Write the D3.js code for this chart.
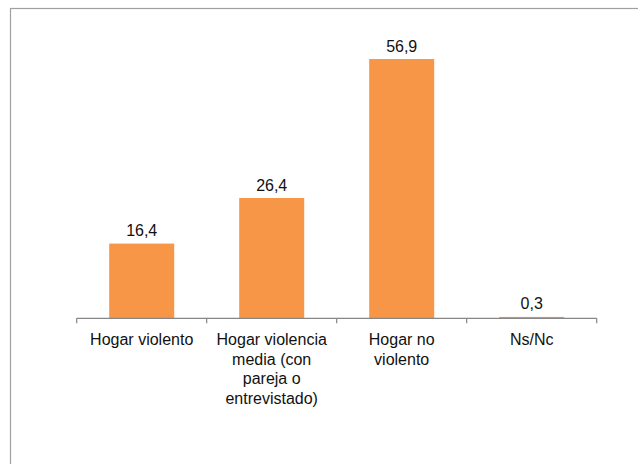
<!DOCTYPE html>
<html>
<head>
<meta charset="utf-8">
<script src="https://cdn.jsdelivr.net/npm/d3@7"></script>
<style>
  html, body { margin: 0; padding: 0; background: #fff; }
  svg { display: block; }
  text { font-family: "Liberation Sans", Arial, sans-serif; fill: #111; }
</style>
</head>
<body>
<svg id="chart" width="638" height="464"></svg>
<script>
// Household categories and their percentages
const categories = [
  "Hogar violento",
  "Hogar violencia media (con pareja o entrevistado)",
  "Hogar no violento",
  "Ns/Nc"
];
const values = [16.4, 26.4, 56.9, 0.3];
const valueLabels = ["16,4", "26,4", "56,9", "0,3"];

const W = 638, H = 464;
const svg = d3.select("#chart");

// Outer frame of the chart area (runs off the right and bottom edges)
svg.append("rect")
  .attr("x", 10.5).attr("y", 8.5)
  .attr("width", 640).attr("height", 470)
  .attr("fill", "#fff")
  .attr("stroke", "#a0a0a0")
  .attr("stroke-width", 1.2);

const plot = { left: 76.7, right: 596.7, top: 44.9, bottom: 318.3 };

const x = d3.scaleBand()
  .domain(categories)
  .range([plot.left, plot.right])
  .paddingInner(0.5)
  .paddingOuter(0.25);

const y = d3.scaleLinear()
  .domain([0, 60])
  .range([plot.bottom, plot.top]);

const data = categories.map((c, i) => ({ cat: c, value: values[i], label: valueLabels[i] }));

// Bars
svg.append("g")
  .selectAll("rect")
  .data(data)
  .join("rect")
  .attr("x", d => x(d.cat))
  .attr("y", d => y(d.value))
  .attr("width", x.bandwidth())
  .attr("height", d => y(0) - y(d.value))
  .attr("fill", "#F79646");

// Value labels above bars
svg.append("g")
  .selectAll("text")
  .data(data)
  .join("text")
  .attr("x", d => x(d.cat) + x.bandwidth() / 2)
  .attr("y", d => y(d.value) - 7.5)
  .attr("text-anchor", "middle")
  .style("font-size", "16px")
  .text(d => d.label);

// Category axis: baseline with tick marks at band boundaries
const step = x.step();
const boundaries = categories.map(c => x(c) - step * x.paddingInner() / 2);
boundaries.push(plot.right);

const axis = svg.append("g");
axis.append("line")
  .attr("x1", plot.left).attr("x2", plot.right)
  .attr("y1", y(0)).attr("y2", y(0))
  .attr("stroke", "#868686").attr("stroke-width", 1.2);
axis.selectAll("line.tick")
  .data(boundaries)
  .join("line")
  .attr("class", "tick")
  .attr("x1", d => d).attr("x2", d => d)
  .attr("y1", y(0)).attr("y2", y(0) + 5)
  .attr("stroke", "#868686").attr("stroke-width", 1.2);

// Category labels, wrapped to the band width
const maxW = 124;
const lineH = 19.5;
const labels = axis.selectAll("text.cat")
  .data(categories)
  .join("text")
  .attr("class", "cat")
  .attr("text-anchor", "middle")
  .style("font-size", "16px")
  .attr("x", d => x(d) + x.bandwidth() / 2)
  .attr("y", y(0) + 27);

labels.each(function(d) {
  const t = d3.select(this);
  const cx = x(d) + x.bandwidth() / 2;
  const words = d.split(" ");
  let line = [];
  let lineNo = 0;
  let tspan = t.append("tspan").attr("x", cx).attr("dy", 0);
  words.forEach(w => {
    line.push(w);
    tspan.text(line.join(" "));
    if (tspan.node().getComputedTextLength() > maxW && line.length > 1) {
      line.pop();
      tspan.text(line.join(" "));
      line = [w];
      lineNo++;
      tspan = t.append("tspan").attr("x", cx).attr("dy", lineH).text(w);
    }
  });
});
</script>
</body>
</html>
